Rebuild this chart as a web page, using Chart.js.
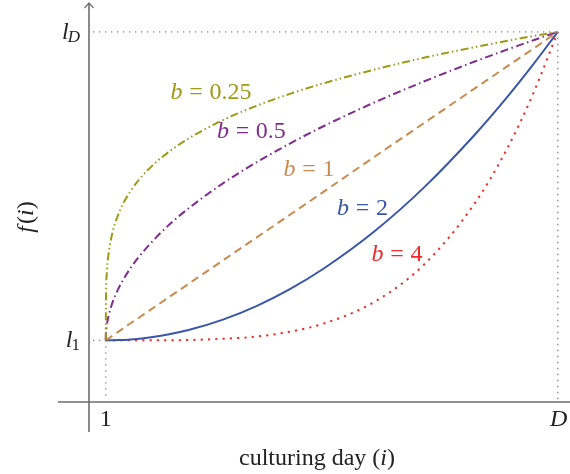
<!DOCTYPE html>
<html>
<head>
<meta charset="utf-8">
<script src="https://cdn.jsdelivr.net/npm/chart.js@4.4.1/dist/chart.umd.min.js"></script>
<style>
  body { margin: 0; background: #fff; }
  #wrap { width: 570px; height: 474px; position: relative; }
</style>
</head>
<body>
<div id="wrap"><canvas id="growth"></canvas></div>
<script>
// culturing days sampled along the curves (day 1 .. day D), denser near day 1
const days = [1, 1.02, 1.05, 1.1, 1.2, 1.4, 1.7, 2, 2.5, 3, 4, 5, 6, 8, 10, 12, 14, 17, 20, 23, 25, 26.5, 28];
const exponents = ['0.25', '0.5', '1', '2', '4'];

// f(i), l1 = 2 and lD = 12
const curveQuarter = [2, 3.65, 4.07, 4.47, 4.93, 5.49, 6.01, 6.39, 6.85, 7.22, 7.77, 8.20, 8.56, 9.14, 9.60, 9.99, 10.33, 10.77, 11.16, 11.50, 11.71, 11.86, 12];
const curveHalf = [2, 2.27, 2.43, 2.61, 2.86, 3.22, 3.61, 3.92, 4.36, 4.72, 5.33, 5.85, 6.30, 7.09, 7.77, 8.38, 8.94, 9.70, 10.39, 11.03, 11.43, 11.72, 12];
const curveOne = [2, 2.01, 2.02, 2.04, 2.07, 2.15, 2.26, 2.37, 2.56, 2.74, 3.11, 3.48, 3.85, 4.59, 5.33, 6.07, 6.81, 7.93, 9.04, 10.15, 10.89, 11.44, 12];
const curveTwo = [2, 2.00, 2.00, 2.00, 2.00, 2.00, 2.01, 2.01, 2.03, 2.05, 2.12, 2.22, 2.34, 2.67, 3.11, 3.66, 4.32, 5.51, 6.95, 8.64, 9.90, 10.92, 12];
const curveFour = [2, 2, 2, 2, 2, 2, 2, 2, 2.00, 2.00, 2.00, 2.00, 2.01, 2.05, 2.12, 2.28, 2.54, 3.23, 4.45, 6.41, 8.24, 9.96, 12];

const dayFirst = 1, dayLast = 28;
const levelLow = 2, levelHigh = 12;

const serif = '"Liberation Serif", "DejaVu Serif", serif';
const styles = [
    { color: '#9d9a16', dash: [8, 3, 1.5, 3, 1.5, 3] },
    { color: '#7f2d8c', dash: [8, 3.5, 1.5, 3.5] },
    { color: '#c98a4e', dash: [8, 5] },
    { color: '#3a56a8', dash: [] },
    { color: '#ee2a2a', dash: [2.2, 5.1] }
];
// where each "b = .." label sits, in data units (day, level of its baseline)
const labelSpots = [[7.29, 9.82], [9.70, 8.56], [13.14, 7.33], [16.34, 6.06], [18.40, 4.57]];

const series = [curveQuarter, curveHalf, curveOne, curveTwo, curveFour];

const datasets = series.map((vals, k) => ({
    label: 'b = ' + exponents[k],
    data: days.map((d, j) => ({ x: d, y: vals[j] })),
    borderColor: styles[k].color,
    borderDash: styles[k].dash,
    borderWidth: 2,
    borderCapStyle: 'butt',
    pointRadius: 0,
    cubicInterpolationMode: 'monotone',
    fill: false
}));

// axes, guides and all the math-style texts
const figurePlugin = {
    id: 'figure',
    beforeDatasetsDraw(chart) {
        const ctx = chart.ctx;
        const xs = chart.scales.x, ys = chart.scales.y;
        const x0 = xs.getPixelForValue(0), y0 = ys.getPixelForValue(0);
        const x1 = xs.getPixelForValue(dayFirst), xD = xs.getPixelForValue(dayLast);
        const yl = ys.getPixelForValue(levelLow), yh = ys.getPixelForValue(levelHigh);
        ctx.save();
        ctx.strokeStyle = '#808080';
        ctx.lineWidth = 1.3;
        ctx.setLineDash([1.3, 4.7]);
        ctx.beginPath();
        ctx.moveTo(x0 + 4, yh); ctx.lineTo(xD, yh);
        ctx.moveTo(xD, yh); ctx.lineTo(xD, y0 - 2);
        ctx.moveTo(x0 + 4, yl); ctx.lineTo(x1, yl);
        ctx.moveTo(x1, yl); ctx.lineTo(x1, y0 - 2);
        ctx.stroke();
        ctx.setLineDash([]);
        ctx.strokeStyle = '#6e6e6e';
        ctx.lineWidth = 1.6;
        ctx.beginPath();
        ctx.moveTo(58, y0); ctx.lineTo(570, y0);
        ctx.moveTo(x0, 432); ctx.lineTo(x0, 3);
        ctx.stroke();
        ctx.lineWidth = 1.2;
        ctx.beginPath();
        ctx.moveTo(x0 - 4.5, 8); ctx.lineTo(x0, 3); ctx.lineTo(x0 + 4.5, 8);
        ctx.stroke();
        ctx.restore();
    },
    afterDraw(chart) {
        const ctx = chart.ctx;
        const xs = chart.scales.x, ys = chart.scales.y;
        ctx.save();
        ctx.textBaseline = 'alphabetic';
        ctx.fillStyle = '#222';

        // level labels l_D and l_1, right aligned
        const levelLabel = (sub, yVal, base) => {
            ctx.font = 'italic 24px ' + serif;
            const lw = ctx.measureText('l').width;
            ctx.font = (sub === 'D' ? 'italic ' : '') + '17px ' + serif;
            const sw = ctx.measureText(sub).width;
            const right = 80;
            const by = ys.getPixelForValue(yVal) + base;
            ctx.fillText(sub, right - sw, by + 3);
            ctx.font = 'italic 24px ' + serif;
            ctx.fillText('l', right - sw - lw + 1, by);
        };
        levelLabel('D', levelHigh, 7.5);
        levelLabel('1', levelLow, 7);

        ctx.textAlign = 'center';
        ctx.font = '24px ' + serif;
        ctx.fillText('1', xs.getPixelForValue(dayFirst), 426);
        ctx.font = 'italic 24px ' + serif;
        ctx.fillText('D', xs.getPixelForValue(dayLast) + 1, 426);

        // x title: culturing day (i)
        ctx.textAlign = 'left';
        const partsX = [['culturing day (', ''], ['i', 'italic '], [')', '']];
        let total = 0;
        partsX.forEach(p => { ctx.font = p[1] + '24px ' + serif; total += ctx.measureText(p[0]).width; });
        let px = 317 - total / 2;
        partsX.forEach(p => {
            ctx.font = p[1] + '24px ' + serif;
            ctx.fillText(p[0], px, 465);
            px += ctx.measureText(p[0]).width;
        });

        // y title: f(i), rotated
        ctx.save();
        ctx.translate(33, 218);
        ctx.rotate(-Math.PI / 2);
        const partsY = [['f', 'italic '], ['(', ''], ['i', 'italic '], [')', '']];
        total = 0;
        partsY.forEach(p => { ctx.font = p[1] + '24px ' + serif; total += ctx.measureText(p[0]).width; });
        px = -total / 2;
        partsY.forEach(p => {
            ctx.font = p[1] + '24px ' + serif;
            ctx.fillText(p[0], px, 0);
            px += ctx.measureText(p[0]).width + (p[0] === 'f' ? 2 : 0);
        });
        ctx.restore();

        // curve labels "b = value"
        const gap = 6.7;
        exponents.forEach((e, k) => {
            ctx.fillStyle = styles[k].color;
            ctx.font = 'italic 24px ' + serif;
            const bw = ctx.measureText('b').width;
            ctx.font = '24px ' + serif;
            const ew = ctx.measureText('=').width;
            const vw = ctx.measureText(e).width;
            const w = bw + gap + ew + gap + vw;
            let lx = xs.getPixelForValue(labelSpots[k][0]) - w / 2;
            const ly = ys.getPixelForValue(labelSpots[k][1]);
            ctx.font = 'italic 24px ' + serif;
            ctx.fillText('b', lx, ly);
            lx += bw + gap;
            ctx.font = '24px ' + serif;
            ctx.fillText('=', lx, ly);
            lx += ew + gap;
            ctx.fillText(e, lx, ly);
        });
        ctx.restore();
    }
};

new Chart(document.getElementById('growth'), {
    type: 'line',
    data: { datasets: datasets },
    options: {
        responsive: true,
        maintainAspectRatio: false,
        animation: false,
        layout: { padding: { left: 89, right: 0, top: 1, bottom: 72 } },
        plugins: {
            legend: { display: false },
            tooltip: { enabled: false }
        },
        scales: {
            x: { type: 'linear', min: 0, max: 28.73, display: false },
            y: { type: 'linear', min: 0, max: 13, display: false }
        }
    },
    plugins: [figurePlugin]
});
</script>
</body>
</html>
